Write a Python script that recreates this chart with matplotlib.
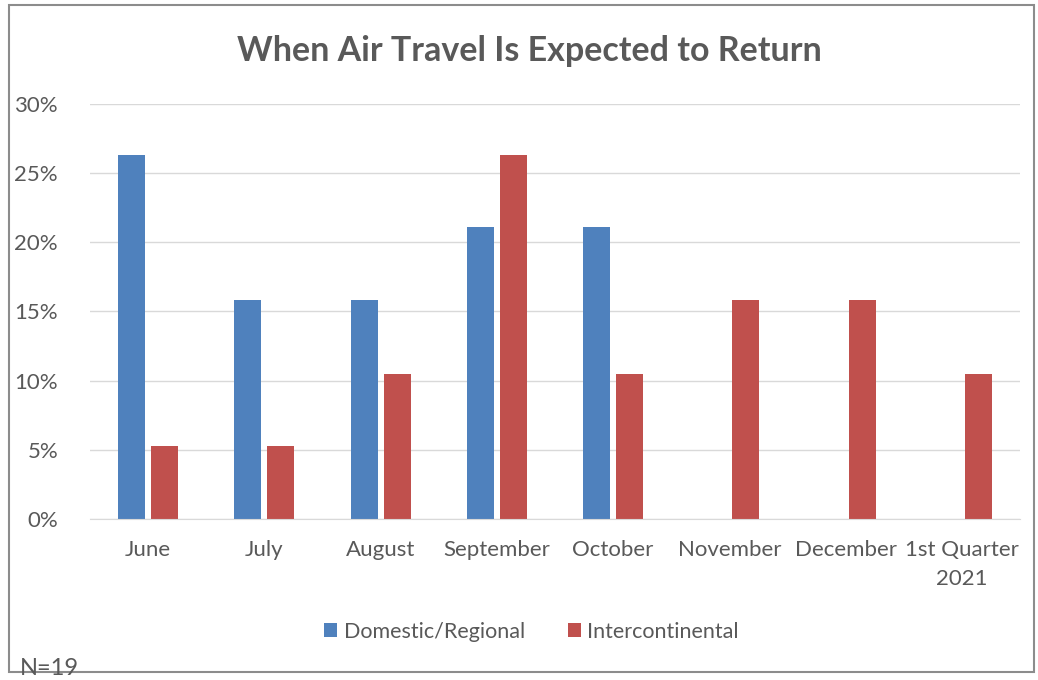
import numpy as np
import matplotlib.pyplot as plt
from matplotlib.patches import Rectangle
from matplotlib.ticker import MultipleLocator, PercentFormatter

plt.rcParams['font.family'] = ['Lato', 'DejaVu Sans']

months = ['June', 'July', 'August', 'September', 'October', 'November',
          'December', '1st Quarter\n2021']
domestic = [26.3, 15.8, 15.8, 21.1, 21.1, 0, 0, 0]
intercontinental = [5.3, 5.3, 10.5, 26.3, 10.5, 15.8, 15.8, 10.5]

blue = '#4F81BD'
red = '#C0504D'
txt = '#595959'

fig = plt.figure(figsize=(10.38, 6.8), dpi=100)
ax = fig.add_axes([0.0867, 0.2368, 0.896, 0.6103])

x = np.arange(len(months))
w = 0.232
ax.bar(x - 0.142, domestic, w, color=blue, label='Domestic/Regional', zorder=2)
ax.bar(x + 0.142, intercontinental, w, color=red, label='Intercontinental', zorder=2)

ax.set_xlim(-0.5, len(months) - 0.5)
ax.set_ylim(0, 30)
ax.yaxis.set_major_locator(MultipleLocator(5))
ax.yaxis.set_major_formatter(PercentFormatter(decimals=0))
ax.grid(axis='y', color='#D9D9D9', lw=1, zorder=0)
ax.set_xticks(x)
ax.set_xticklabels(months, fontsize=16, color=txt, linespacing=1.55)
ax.tick_params(axis='y', labelsize=16, labelcolor=txt, length=0, pad=23)
ax.tick_params(axis='x', length=0, pad=15)
for s in ['top', 'right', 'left']:
    ax.spines[s].set_visible(False)
ax.spines['bottom'].set_color('#D9D9D9')

fig.text(0.51, 0.925, 'When Air Travel Is Expected to Return', ha='center',
         va='center', fontsize=24.5, fontweight='bold', color=txt)

ax.legend(loc='center', bbox_to_anchor=(0.512, 0.071), bbox_transform=fig.transFigure,
          ncol=2, frameon=False, fontsize=15.5, labelcolor=txt, handlelength=0.6,
          handleheight=0.6, handletextpad=0.3, columnspacing=2.0)

fig.patches.append(Rectangle((0.0087, 0.0118), 0.9873, 0.9808, transform=fig.transFigure,
                             fill=False, edgecolor='#8C8C8C', lw=1.5))
fig.text(0.019, 0.001, 'N=19', ha='left', va='bottom', fontsize=17, color=txt)

fig.savefig('out.png', dpi=100)
